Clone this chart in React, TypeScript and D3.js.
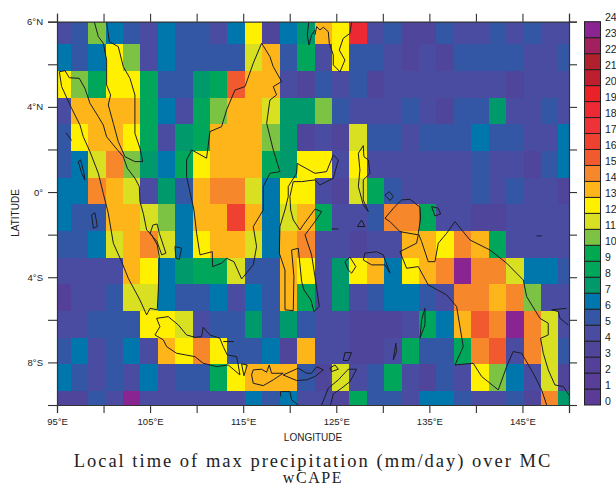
import React, { useEffect, useRef } from 'react'
import * as d3 from 'd3'

// longitude ticks along the x axis, labels only on every other one
const lonTicks = [95, 100, 105, 110, 115, 120, 125, 130, 135, 140, 145, 150]
const lonLabels = ['95°E', '', '105°E', '', '115°E', '', '125°E', '', '135°E', '', '145°E', '']
const latTicks = [8, 6, 4, 2, 0, -2, -4, -6, -8, -10]
const latLabels = ['6°N', '', '4°N', '', '0°', '', '4°S', '', '8°S', '']

const levelColors = [
  '#5c3b97', '#583e98', '#543f99', '#4f469c', '#494ca0', '#3457a5', '#0077ac', '#00996b',
  '#00a659', '#00a94f', '#7cc243', '#d9e021', '#fff000', '#fdb51a', '#f6872a', '#f15a2e',
  '#ef4130', '#ee3237', '#ed2a33', '#ea2127', '#be1e2d', '#b1212d', '#a3205e', '#8a2490',
]
const levelLabels = d3.range(0, 25)

// one row per latitude band, north to south, 30 columns west to east
const row0 = [4, 5, 10, 6, 5, 4, 6, 5, 5, 4, 6, 12, 3, 6, 7, 13, 12, 18, 4, 5, 3, 3, 5, 4, 4, 5, 4, 5, 4, 4]
const row1 = [6, 5, 6, 12, 10, 4, 6, 5, 5, 5, 5, 11, 13, 5, 8, 4, 12, 5, 5, 4, 3, 4, 3, 5, 5, 5, 5, 4, 4, 5]
const row2 = [12, 10, 8, 12, 12, 8, 5, 5, 7, 8, 15, 13, 13, 4, 3, 5, 4, 5, 3, 4, 4, 4, 4, 4, 4, 4, 3, 4, 4, 4]
const row3 = [4, 13, 13, 13, 13, 8, 6, 4, 8, 10, 13, 13, 11, 7, 7, 10, 5, 4, 4, 4, 5, 4, 3, 5, 5, 7, 4, 4, 5, 4]
const row4 = [5, 12, 13, 13, 12, 8, 4, 7, 8, 13, 13, 13, 10, 7, 3, 4, 3, 11, 5, 5, 4, 5, 5, 5, 6, 5, 5, 4, 4, 6]
const row5 = [5, 6, 11, 14, 10, 7, 6, 8, 12, 13, 13, 13, 8, 7, 12, 12, 4, 12, 4, 4, 4, 4, 4, 4, 5, 4, 4, 3, 5, 6]
const row6 = [6, 6, 14, 13, 11, 4, 7, 5, 13, 14, 14, 11, 6, 12, 12, 4, 3, 11, 8, 5, 4, 4, 4, 4, 5, 4, 5, 4, 4, 3]
const row7 = [6, 5, 5, 13, 13, 11, 10, 6, 13, 13, 16, 13, 6, 11, 13, 8, 4, 4, 5, 14, 14, 8, 4, 4, 3, 3, 4, 4, 4, 4]
const row8 = [5, 5, 6, 11, 13, 14, 11, 6, 12, 13, 13, 11, 6, 13, 14, 4, 4, 3, 4, 4, 13, 13, 12, 14, 13, 8, 4, 4, 4, 4]
const row9 = [4, 4, 4, 4, 13, 12, 6, 7, 8, 8, 11, 5, 5, 13, 12, 4, 7, 12, 13, 6, 12, 13, 14, 23, 14, 14, 11, 6, 6, 5]
const row10 = [2, 4, 4, 5, 11, 11, 6, 5, 5, 6, 4, 6, 5, 13, 8, 4, 7, 4, 5, 6, 6, 5, 4, 14, 14, 13, 14, 10, 4, 4]
const row11 = [4, 4, 5, 5, 5, 12, 12, 11, 4, 5, 5, 7, 5, 7, 5, 4, 4, 3, 3, 3, 4, 8, 6, 13, 15, 14, 23, 14, 11, 4]
const row12 = [5, 6, 4, 5, 6, 4, 13, 12, 14, 12, 5, 5, 6, 3, 13, 4, 4, 3, 3, 4, 8, 5, 5, 8, 14, 15, 4, 14, 11, 5]
const row13 = [6, 5, 4, 5, 4, 6, 4, 5, 5, 8, 12, 13, 13, 13, 5, 3, 11, 4, 5, 8, 4, 3, 5, 4, 12, 10, 6, 4, 11, 3]
const row14 = [3, 3, 5, 4, 23, 4, 4, 4, 4, 4, 4, 6, 5, 6, 4, 4, 3, 8, 5, 5, 4, 6, 6, 5, 4, 4, 5, 3, 14, 7]
const rows = [row0, row1, row2, row3, row4, row5, row6, row7, row8, row9, row10, row11, row12, row13, row14]

// coastlines as [lon, lat]
const sumatra = [[95.25, 5.65], [95.86, 5.7], [96.32, 5.37], [97.39, 5.34], [98, 4.87], [98.54, 4.17], [99.44, 3.54], [99.97, 3.15], [100.33, 2.6], [101.05, 2.21], [102.12, 1.66], [102.55, 1.12], [103.37, 0.65], [103.84, 0.26], [103.91, -0.45], [104.27, -1], [104.63, -1.78], [105.16, -2.01], [105.77, -2.48], [105.99, -3.03], [105.88, -4.6], [105.77, -5.53], [104.99, -5.46], [104.63, -5.77], [103.91, -5.07], [102.66, -4.05], [101.94, -3.27], [101.05, -2.4], [100.51, -1], [99.97, -0.06], [99.44, 0.88], [98.54, 1.9], [97.82, 2.6], [97.47, 3.15], [96.57, 3.93], [95.5, 4.95], [95.25, 5.65]]
const malaya = [[99, 8], [99.44, 7.3], [99.97, 6.99], [100.33, 6.2], [100.33, 5.03], [100.76, 4.56], [100.51, 4.09], [101.05, 3.23], [101.58, 2.37], [102.3, 1.66], [103.37, 1.43], [104.2, 1.43], [103.91, 2.06], [103.37, 2.76], [103.37, 4.56], [102.84, 5.34], [102.12, 5.89], [101.58, 6.83], [100.62, 7.06], [100.33, 8]]
const java = [[105.7, -5.93], [106.95, -5.85], [108.03, -6.24], [108.92, -6.71], [109.82, -6.82], [110.53, -6.79], [110.71, -6.35], [111.43, -6.71], [112.5, -6.87], [112.86, -7.26], [113.29, -7.65], [114.29, -7.73], [114.47, -8.12], [114.65, -8.59], [113.4, -8.12], [112.15, -8.2], [110.71, -8.04], [109.82, -7.73], [107.85, -7.57], [106.78, -7.26], [106.42, -6.94], [105.52, -6.71], [106.06, -6.32], [105.7, -5.93]]
const borneo = [[116.98, 6.99], [117.87, 6.36], [118.23, 5.89], [119.13, 5.19], [118.23, 4.95], [118.59, 4.56], [117.87, 4.32], [117.52, 3.23], [118.23, 1.98], [118.95, 0.96], [117.87, 0.88], [117.16, 0.26], [117.16, -0.84], [116.08, -1.62], [116.44, -2.56], [116.08, -3.42], [114.83, -4.08], [114.01, -3.27], [113.22, -3.11], [112.68, -3.34], [111.72, -3.5], [111.68, -2.8], [110.36, -2.95], [110, -1.94], [109.71, -0.84], [108.92, 0.73], [108.92, 1.51], [109.46, 1.98], [111.07, 1.59], [111.43, 2.84], [112.68, 3.07], [113.22, 3.86], [114.12, 4.79], [115.19, 4.95], [116.08, 6.05], [116.98, 6.99]]
const sulawesi = [[125.22, 1.51], [124.68, 1.74], [123.96, 0.96], [122.71, 0.88], [121.1, 1.27], [120.81, 1.35], [120.74, 0.88], [119.84, 0.26], [119.84, -0.21], [119.49, -0.84], [118.95, -1.62], [118.88, -2.87], [119.49, -3.66], [119.49, -5.53], [120.38, -5.57], [120.45, -3.97], [120.2, -2.72], [120.92, -2.64], [121.28, -4.2], [121.53, -4.6], [122.28, -5.07], [122.6, -5.61], [123.18, -5.38], [122.71, -3.97], [122.35, -2.95], [121.64, -2.01], [122.71, -1.39], [123.43, -0.92], [122.71, -0.8], [121.46, -1.54], [121.1, -1.78], [120.38, -1.31], [120.1, -0.84], [120.02, -0.21], [120.38, 0.49], [121.28, 0.49], [122.71, 0.57], [123.25, 0.33], [124.68, 0.65], [125.22, 1.51]]
const newGuinea = [[130.23, -1.23], [131.3, -0.68], [132.02, -0.37], [132.92, -0.34], [133.99, -0.71], [134.06, -1.23], [133.81, -1.94], [134.17, -2.33], [134.88, -3.27], [135.6, -3.27], [135.96, -2.4], [136.85, -1.94], [137.75, -1.39], [139.36, -2.25], [141.51, -2.72], [143.3, -3.34], [145.09, -4.13], [145.45, -4.91], [146.88, -5.93], [147.77, -6.16], [147.77, -6.71], [146.95, -6.87], [147.24, -7.57], [147.77, -8.35], [148.49, -9.06], [149.38, -9.13], [150.1, -9.6]]
const newGuineaSouth = [[147.6, -10], [147.06, -9.29], [146.16, -8.51], [144.91, -7.57], [144, -7.49], [143.3, -8.2], [142.4, -9.29], [140.61, -8.66], [139.72, -8.04], [137.75, -8.12], [138.64, -7.26], [137.93, -5.38], [136.85, -4.83], [134.88, -4.36], [133.81, -3.5], [132.56, -3.58], [131.84, -2.8], [133.63, -2.4], [133.81, -2.01], [131.84, -1.86], [130.77, -1.39], [130.23, -1.23]]
const mindanao = [[122.71, 7.38], [122.89, 7.77], [123.25, 7.61], [123.61, 7.74], [124.14, 7.53], [124.25, 6.99], [124.68, 6.44], [124.68, 5.97], [125.4, 5.65], [125.93, 6.2], [125.32, 6.67], [125.75, 7.22], [126.47, 7.45], [126.65, 8]]
const zamboanga = [[122.03, 7.95], [121.89, 7.38], [122.07, 6.91], [122.35, 7.38], [122.71, 7.61]]
const halmahera = [[127.9, 2.18], [127.37, 1.82], [127.54, 1.04], [127.37, 0.26], [127.9, -0.6], [128.44, -0.92], [127.9, -0.37], [127.9, 0.57], [128.62, 0.88], [128.44, 1.51], [127.97, 1.66], [127.9, 2.18]]
const bangka = [[105.0, -1.95], [105.3, -1.55], [105.75, -1.5], [106, -1.95], [106.7, -2.87], [106.25, -2.95], [105.75, -2.33], [105, -1.95]]
const belitung = [[107.67, -2.56], [108.39, -2.64], [108.14, -3.16], [107.78, -3.11], [107.67, -2.56]]
const nias = [[95.96, 2.79], [96.57, 2.42]]
const simeulue = [[97.29, 1.43], [97.54, 1.51], [97.9, 0.88], [98, 0.57], [97.65, 0.88], [97.29, 1.43]]
const siberut = [[98.72, -1.07], [99.08, -0.97], [99.33, -1.62], [98.9, -1.7], [98.72, -1.07]]
const madura = [[112.86, -7.02], [114, -7.02]]
const bali = [[114.83, -8.07], [115.44, -8.12], [115.08, -8.63], [114.83, -8.07]]
const sumbawa = [[116.08, -8.35], [116.98, -8.32], [117.52, -8.46], [117.8, -8.12], [118.05, -8.51], [119.3, -8.51], [118.23, -8.82], [117.16, -9.09], [116.08, -8.98], [115.9, -8.59], [116.08, -8.35]]
const flores = [[119.3, -8.59], [120.92, -8.27], [121.81, -8.51], [122.35, -8.51], [122.89, -8.2], [123.61, -8.35], [122.71, -8.66], [121.82, -8.82], [120.74, -8.85], [119.3, -8.59]]
const alor = [[124.32, -8.27], [124.86, -8.12], [125.22, -8.32], [124.5, -8.43], [124.32, -8.27]]
const timorNorth = [[127.19, -8.32], [126.29, -8.32], [125.22, -8.82], [124.14, -9.21], [123.43, -10]]
const timorSouth = [[127.19, -8.32], [126.47, -8.9], [125.58, -9.21], [124.68, -9.48], [124.39, -10]]
const sumba = [[119.02, -9.6], [119.02, -9.37], [120.02, -9.37], [120.2, -9.76], [120.92, -10]]
const buru = [[125.93, -3.27], [126.47, -3.06], [127.11, -3.5], [126.65, -3.81], [126.29, -3.66], [125.93, -3.27]]
const seram = [[127.9, -3.19], [128.08, -2.87], [129.34, -2.8], [130.05, -2.95], [130.77, -3.81], [130.23, -3.42], [128.8, -3.42], [127.9, -3.19]]
const aru = [[133.99, -6.86], [134.17, -6], [134.53, -5.46], [134.53, -6.24], [133.99, -6.86]]
const tanimbar = [[131.12, -7.88], [131.4, -7.1], [131.48, -7.5], [131.12, -7.88]]
const wetar = [[125.75, -7.91], [125.93, -7.54], [126.65, -7.54], [126.29, -7.91], [125.75, -7.91]]
const obi = [[127.26, -1.62], [127.72, -1.31], [128.08, -1.62], [127.26, -1.62]]
const talaud = [[130.23, -0.14], [130.7, 0.02], [131.13, -0.21], [130.77, -0.4], [130.23, -0.14]]
const biak = [[135.24, -0.68], [135.96, -0.76], [136.21, -1.03], [135.6, -1.12], [135.24, -0.68]]
const newBritain = [[149.74, -5.46], [148.13, -5.53], [148.85, -5.61], [149.03, -5.93], [149.92, -6.24]]
const sula = [[124.5, -1.73], [125.22, -1.73]]
const manus = [[146.52, -2.06], [147.06, -2.06]]
const coasts = [sumatra, malaya, java, borneo, sulawesi, newGuinea, newGuineaSouth, mindanao, zamboanga, halmahera, bangka, belitung, nias, simeulue, siberut, madura, bali, sumbawa, flores, alor, timorNorth, timorSouth, sumba, buru, seram, aru, tanimbar, wetar, obi, talaud, biak, newBritain, sula, manus]

const App = () => {
  const canvasRef = useRef<SVGSVGElement | null>(null)

  useEffect(() => {
    const svg = d3.select(canvasRef.current)
    svg.selectAll('*').remove()

    const x = d3.scaleLinear().domain([95, 150]).range([57, 569])
    const y = d3.scaleLinear().domain([8, -10]).range([21.7, 405])

    // grid cell edges in degrees (the model grid is offset from the axis)
    const lonEdge = (i: number) => Math.min(150, Math.max(95, 94.6 + 1.871 * i))
    const latEdge = (i: number) => Math.max(-10, Math.min(8, 8.19 - 1.2525 * i))

    const plot = svg.append('g')
    rows.forEach((row, r) => {
      plot.selectAll(null)
        .data(row)
        .enter().append('rect')
        .attr('x', (d, i) => x(lonEdge(i)))
        .attr('y', y(latEdge(r)))
        .attr('width', (d, i) => x(lonEdge(i + 1)) - x(lonEdge(i)))
        .attr('height', y(latEdge(r + 1)) - y(latEdge(r)))
        .attr('fill', d => levelColors[d])
        .attr('shape-rendering', 'crispEdges')
    })

    svg.append('clipPath').attr('id', 'plot-clip').append('rect')
      .attr('x', 57).attr('y', 21.7).attr('width', 512).attr('height', 383.3)

    const line = d3.line().x(d => x(d[0])).y(d => y(d[1]))
    svg.append('g')
      .attr('clip-path', 'url(#plot-clip)')
      .selectAll('path')
      .data(coasts)
      .enter().append('path')
      .attr('d', d => line(d as [number, number][]))
      .attr('fill', 'none')
      .attr('stroke', '#1d1d24')
      .attr('stroke-width', 1)

    // frame and ticks on all four sides
    const fontFamily = 'Liberation Sans, Arial, sans-serif'
    const style = (g: any) => {
      g.selectAll('.domain').attr('stroke', '#333').attr('stroke-width', 1.2)
      g.selectAll('.tick line').attr('stroke', '#333').attr('stroke-width', 1.1)
      g.selectAll('.tick text').attr('font-family', fontFamily).attr('font-size', 9.5).attr('fill', '#222')
    }
    svg.append('g').attr('transform', 'translate(0,405)')
      .call(d3.axisBottom(x).tickValues(lonTicks).tickSize(8).tickPadding(5).tickFormat((d, i) => lonLabels[i]))
      .call(style)
    svg.append('g').attr('transform', 'translate(0,21.7)')
      .call(d3.axisTop(x).tickValues(lonTicks).tickSize(8).tickFormat(() => ''))
      .call(style)
    svg.append('g').attr('transform', 'translate(57,0)')
      .call(d3.axisLeft(y).tickValues(latTicks).tickSize(9).tickPadding(5).tickFormat((d, i) => latLabels[i]))
      .call(style)
    svg.append('g').attr('transform', 'translate(569,0)')
      .call(d3.axisRight(y).tickValues(latTicks).tickSize(8).tickFormat(() => ''))
      .call(style)

    svg.append('text')
      .attr('x', 313).attr('y', 441)
      .attr('text-anchor', 'middle')
      .attr('font-family', fontFamily).attr('font-size', 10).attr('fill', '#222')
      .text('LONGITUDE')
    svg.append('text')
      .attr('transform', 'translate(19,213) rotate(-90)')
      .attr('text-anchor', 'middle')
      .attr('font-family', fontFamily).attr('font-size', 10).attr('fill', '#222')
      .text('LATITUDE')

    // colour bar
    const barY = d3.scaleLinear().domain([0, 24]).range([405, 21.7])
    svg.append('g').selectAll('rect')
      .data(levelColors)
      .enter().append('rect')
      .attr('x', 584.5)
      .attr('y', (d, i) => barY(i + 1))
      .attr('width', 16)
      .attr('height', (d, i) => barY(i) - barY(i + 1))
      .attr('fill', d => d)
      .attr('stroke', '#222')
      .attr('stroke-width', 1)
    svg.append('g').selectAll('text')
      .data(levelLabels)
      .enter().append('text')
      .attr('x', 605)
      .attr('y', d => barY(d) - 0.5)
      .attr('font-family', fontFamily).attr('font-size', 10.5).attr('fill', '#222')
      .text(d => d)

    const titleFont = 'Liberation Serif, DejaVu Serif, serif'
    svg.append('text')
      .attr('x', 313).attr('y', 467)
      .attr('text-anchor', 'middle')
      .attr('font-family', titleFont).attr('font-size', 18.5).attr('letter-spacing', 2).attr('fill', '#222')
      .text('Local time of max precipitation (mm/day) over MC')
    svg.append('text')
      .attr('x', 313).attr('y', 483)
      .attr('text-anchor', 'middle')
      .attr('font-family', titleFont).attr('font-size', 16).attr('letter-spacing', 1.6).attr('fill', '#222')
      .text('wCAPE')
  }, [])

  return (
    <svg ref={canvasRef} width={616} height={486} style={{ position: 'absolute', left: 0, top: 0, background: '#fff' }} />
  )
}

export default App
